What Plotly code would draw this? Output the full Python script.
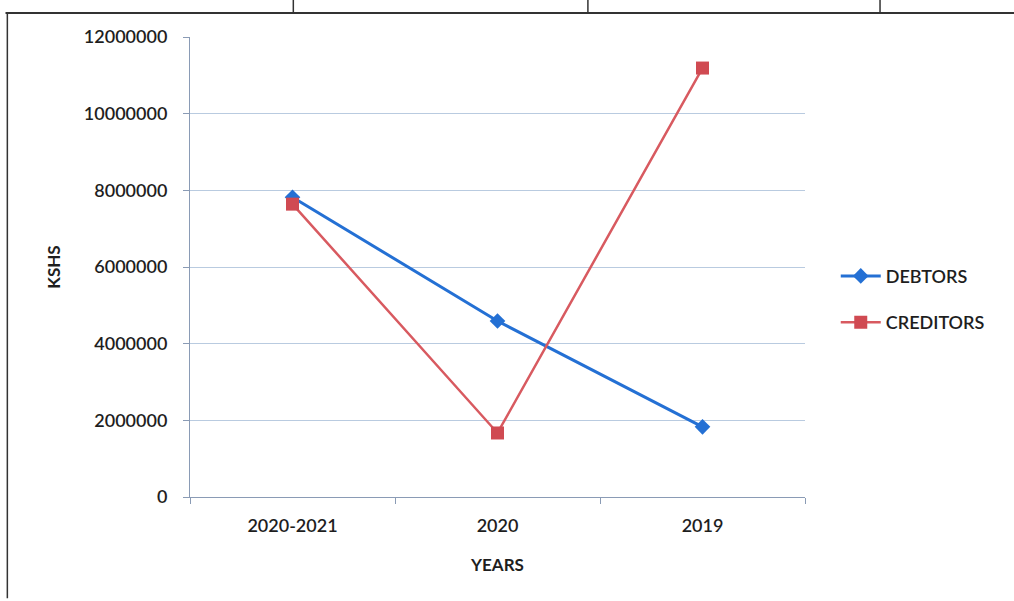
import plotly.graph_objects as go

years = ["2020-2021", "2020", "2019"]
debtors = [7820000, 4590000, 1830000]
creditors = [7640000, 1670000, 11190000]
y_ticks = [0, 2000000, 4000000, 6000000, 8000000, 10000000, 12000000]

FONT = "Lato"
TXT = "#1e1e1e"

fig = go.Figure()
fig.add_trace(go.Scatter(
    x=years, y=debtors, name="DEBTORS", mode="lines+markers", legendgroup="d",
    line=dict(color="#2470d4", width=3),
    marker=dict(symbol="diamond", size=12, color="#2470d4"),
))
fig.add_trace(go.Scatter(
    x=years, y=creditors, name="CREDITORS", mode="lines+markers", legendgroup="c",
    line=dict(color="#d85a60", width=2.5),
    marker=dict(symbol="square", size=13, color="#d04a52"),
))

fig.update_layout(
    width=1014, height=601,
    margin=dict(l=190, r=209, t=37, b=104),
    paper_bgcolor="white", plot_bgcolor="white",
    font=dict(family=FONT, color=TXT, size=17),
    showlegend=True,
    legend=dict(x=1.05, y=0.43, xanchor="left", yanchor="middle",
                font=dict(size=18, family=FONT, color=TXT, weight=600),
                itemwidth=40, tracegroupgap=20, bgcolor="rgba(0,0,0,0)"),
    xaxis=dict(
        type="category", range=[-0.5, 2.5],
        showline=True, linecolor="#8a9bb5", linewidth=1,
        ticks="outside", tickson="boundaries", ticklen=6, tickcolor="#8a9bb5",
        showgrid=False, ticklabelstandoff=12,
        tickfont=dict(size=18, family=FONT, color=TXT, weight=600),
        title=dict(text="YEARS", font=dict(size=17, family=FONT, color=TXT, weight=700), standoff=24),
    ),
    yaxis=dict(
        range=[0, 12000000], tickvals=y_ticks,
        ticktext=[str(v) for v in y_ticks],
        showline=True, linecolor="#8a9bb5", linewidth=1,
        ticks="outside", ticklen=6, tickcolor="#8a9bb5",
        showgrid=True, gridcolor="#b9cbe0", gridwidth=1,
        zeroline=False, ticklabelstandoff=12,
        tickfont=dict(size=18, family=FONT, color=TXT, weight=600),
        title=dict(text="KSHS", font=dict(size=17, family=FONT, color=TXT, weight=700), standoff=18),
    ),
)

# photo frame lines (table borders)
frame = dict(color="#333333", width=2)
fig.add_shape(type="line", xref="paper", yref="paper", x0=-0.30, x1=1.35, y0=1.052, y1=1.052, line=frame)
fig.add_shape(type="line", xref="paper", yref="paper", x0=-0.297, x1=-0.297, y0=1.052, y1=-0.22, line=dict(color="#333333", width=1.5))
for xp in [0.168, 0.647, 1.122]:
    fig.add_shape(type="line", xref="paper", yref="paper", x0=xp, x1=xp, y0=1.052, y1=1.09, line=dict(color="#333333", width=1.5))

fig.write_html("out.html")
